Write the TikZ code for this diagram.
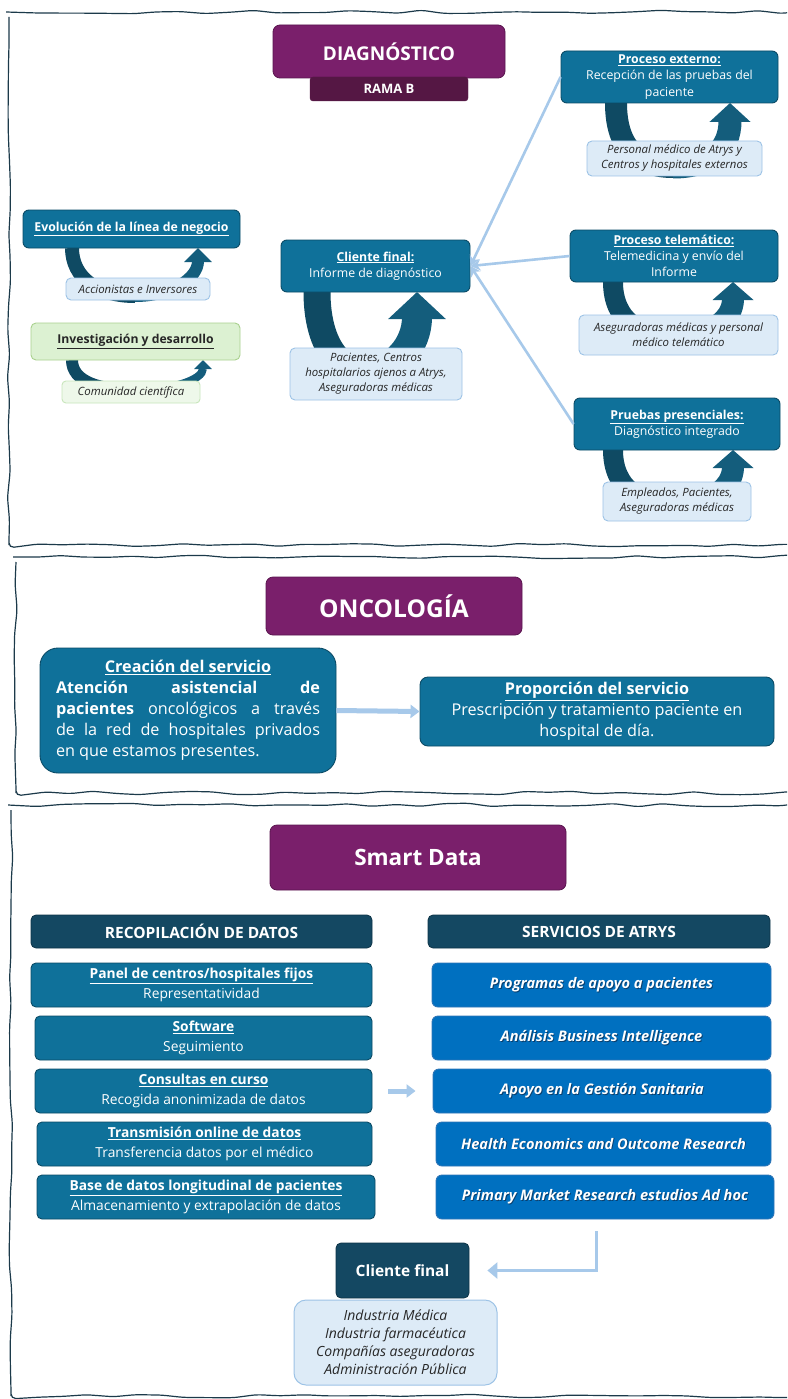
\documentclass[tikz,border=0pt]{standalone}
\usepackage{fontspec}
\setmainfont{Open Sans}
\usetikzlibrary{arrows.meta,decorations.pathmorphing}

\definecolor{framecol}{HTML}{1C3A4A}
\definecolor{plum}{HTML}{7A1F6B}
\definecolor{plumedge}{HTML}{5A164F}
\definecolor{plumdark}{HTML}{551744}
\definecolor{petrol}{HTML}{0F719A}
\definecolor{petroledge}{HTML}{0B4B66}
\definecolor{navy}{HTML}{144862}
\definecolor{navyedge}{HTML}{0E3447}
\definecolor{vivid}{HTML}{0070C0}
\definecolor{vividedge}{HTML}{2E75B6}
\definecolor{vividshade}{HTML}{0A3F6E}
\definecolor{paleblue}{HTML}{DDEBF7}
\definecolor{paleedge}{HTML}{9DC3E6}
\definecolor{palegreen}{HTML}{DCF1D2}
\definecolor{greenedge}{HTML}{A9D18E}
\definecolor{mintfill}{HTML}{EEF8EA}
\definecolor{mintedge}{HTML}{C8E6BC}
\definecolor{loopdark}{HTML}{0F4A63}
\definecolor{looplight}{HTML}{145D7C}
\definecolor{linkblue}{HTML}{A7C9EA}
\definecolor{inktext}{HTML}{262626}

\newcommand{\fsz}[2]{\fontsize{#1}{#2}\selectfont}
\newcommand{\ul}[1]{\underline{#1}}
% white label with a soft dark drop shadow
\newcommand{\shadowed}[1]{\rlap{\hspace{0.9pt}\raisebox{-0.9pt}{\textcolor{vividshade}{#1}}}#1}

\begin{document}
\begin{tikzpicture}[x=1pt,y=-1pt,
  every node/.style={inner sep=2pt, align=center},
  frame/.style={draw=framecol, line width=1.2pt, rounded corners=5pt,
    decorate, decoration={random steps, segment length=24pt, amplitude=1.8pt}},
  headbox/.style={fill=plum, draw=plumedge, line width=0.8pt, rounded corners=7pt,
    text=white, font=\bfseries},
  subhead/.style={fill=plumdark, draw=plumdark, rounded corners=3pt, text=white,
    font=\bfseries\fsz{13}{15}},
  procbox/.style={fill=petrol, draw=petroledge, line width=0.9pt, rounded corners=6pt,
    text=white, font=\fsz{12.3}{16.3}},
  notebox/.style={fill=paleblue, draw=paleedge, line width=0.9pt, rounded corners=5pt,
    text=inktext, font=\itshape\fsz{11.4}{15}},
  greenbox/.style={fill=palegreen, draw=greenedge, line width=0.9pt, rounded corners=5pt,
    text=inktext, font=\bfseries\fsz{12.2}{14}},
  mintbox/.style={fill=mintfill, draw=mintedge, line width=0.9pt, rounded corners=4pt,
    text=inktext, font=\itshape\fsz{11.4}{13}},
  onco/.style={fill=petrol, draw=petroledge, line width=0.9pt, text=white,
    font=\fsz{16.2}{21}},
  navybox/.style={fill=navy, draw=navyedge, line width=0.8pt, rounded corners=5pt,
    text=white, font=\bfseries\fsz{15.5}{17}},
  databox/.style={fill=petrol, draw=petroledge, line width=0.9pt, rounded corners=5pt,
    text=white, font=\fsz{13.8}{19.5}},
  servbox/.style={fill=vivid, draw=vividedge, line width=0.9pt, rounded corners=6pt,
    text=white, font=\bfseries\itshape\fsz{14.6}{17}},
  clientnote/.style={fill=paleblue, draw=paleedge, line width=1pt, rounded corners=12pt,
    text=inktext, font=\itshape\fsz{14}{18}},
  armdark/.style={draw=loopdark, line width=#1},
  armlight/.style={draw=looplight, line width=#1},
  link/.style={draw=linkblue, line width=2.6pt, -{Stealth[length=10pt,width=11pt]}},
  fat/.style={draw=linkblue, line width=5pt, -{Triangle[length=9pt,width=13pt]}},
]
\pgfmathsetseed{11}
\useasboundingbox (0,0) rectangle (787,1399);
\clip (0,0) rectangle (787,1399);
\fill[white] (0,0) rectangle (787,1399);

% hand-drawn section frames
\draw[frame] (9,12) rectangle (810,545);
\draw[frame] (16,557) rectangle (810,793);
\draw[frame] (11,805) rectangle (810,1396);

% ===== Diagnostico =====
\node[headbox, minimum width=232, minimum height=53, font=\bfseries\fsz{19}{22}] (diag) at (389,51.5) {DIAGNÓSTICO};
\node[subhead, minimum width=158, minimum height=24] (rama) at (389,89) {RAMA B};

% feedback loops (drawn before the boxes that cover their ends)
\draw[armdark=22pt] (616,103) .. controls (616,150) and (640,167) .. (673,167);
\draw[armlight=23pt, -{Triangle[length=19pt,width=40pt]}] (673,167) .. controls (710,167) and (730,150) .. (730,103);

\draw[armdark=20pt] (613,282) .. controls (613,320) and (640,337) .. (673,337);
\draw[armlight=22pt, -{Triangle[length=18pt,width=40pt]}] (673,337) .. controls (710,337) and (733,320) .. (733,282);

\draw[armdark=20pt] (613,450) .. controls (613,488) and (640,505) .. (673,505);
\draw[armlight=22pt, -{Triangle[length=18pt,width=40pt]}] (673,505) .. controls (710,505) and (733,488) .. (733,450);

\draw[armdark=27pt] (317,292) .. controls (317,345) and (340,372) .. (366,372);
\draw[armlight=30pt, -{Triangle[length=27pt,width=56pt]}] (366,372) .. controls (395,372) and (417,345) .. (417,292);

\draw[armdark=14pt] (72,248) .. controls (72,278) and (98,296) .. (135,296);
\draw[armlight=12pt, -{Triangle[length=14pt,width=27pt]}] (135,296) .. controls (172,296) and (198,278) .. (198,248);

\draw[armdark=12pt] (72,360) .. controls (72,382) and (100,390) .. (135,390);
\draw[armlight=8pt, -{Triangle[length=9pt,width=17pt]}] (135,390) .. controls (172,390) and (203,380) .. (203,360);

\node[procbox, minimum width=217, minimum height=52] (ext) at (669.5,77)
  {\ul{\textbf{Proceso externo:}}\\Recepción de las pruebas del\\paciente};
\node[notebox, minimum width=175, minimum height=35] (extn) at (674.5,158.5)
  {Personal médico de Atrys y\\Centros y hospitales externos};

\node[procbox, minimum width=208, minimum height=52] (tele) at (674,256)
  {\ul{\textbf{Proceso telemático:}}\\Telemedicina y envío del\\Informe};
\node[notebox, minimum width=199, minimum height=40] (telen) at (678.5,335)
  {Aseguradoras médicas y personal\\médico telemático};

\node[procbox, minimum width=206, minimum height=52] (pres) at (677,424)
  {\ul{\textbf{Pruebas presenciales:}}\\Diagnóstico integrado};
\node[notebox, minimum width=148, minimum height=39] (presn) at (677,501.5)
  {Empleados, Pacientes,\\Aseguradoras médicas};

\node[procbox, minimum width=189, minimum height=52] (cli) at (375.5,266)
  {\ul{\textbf{Cliente final:}}\\Informe de diagnóstico};
\node[notebox, minimum width=172, minimum height=52] (clin) at (376,374)
  {Pacientes, Centros\\hospitalarios ajenos a Atrys,\\Aseguradoras médicas};

\node[procbox, minimum width=217, minimum height=38] (evo) at (131.5,229)
  {\ul{\textbf{Evolución de la línea de negocio}}};
\node[notebox, minimum width=144, minimum height=22] (evon) at (138,289)
  {Accionistas e Inversores};

\node[greenbox, minimum width=209, minimum height=37] (inv) at (135.5,341.5)
  {\ul{Investigación y desarrollo}};
\node[mintbox, minimum width=138, minimum height=22] (invn) at (131,392)
  {Comunidad científica};

\draw[link] (ext.west) -- (cli.east);
\draw[link] (tele.west) -- (cli.east);
\draw[link] (pres.west) -- (cli.east);

% ===== Oncologia =====
\node[headbox, minimum width=256, minimum height=58, font=\bfseries\fsz{24.5}{28}] (onc) at (394,606) {ONCOLOGÍA};
\node[onco, rounded corners=18pt, minimum width=296, minimum height=125, text width=264pt, align=justify] (cre) at (188,710.5)
  {\makebox[\linewidth][c]{\ul{\textbf{Creación del servicio}}}\par
   \textbf{Atención asistencial de}\linebreak \textbf{pacientes} oncológicos a través\linebreak de la red de hospitales privados\linebreak en que estamos presentes.};
\node[onco, rounded corners=8pt, minimum width=354, minimum height=69] (pro) at (597,711.5)
  {\ul{\textbf{Proporción del servicio}}\\Prescripción y tratamiento paciente en\\hospital de día.};
\draw[fat] (cre.east) -- (pro.west);

% ===== Smart Data =====
\node[headbox, minimum width=296, minimum height=65, font=\bfseries\fsz{22.5}{26}] (smart) at (418,857.5) {Smart Data};

\node[navybox, minimum width=341, minimum height=33] (rec) at (201.5,931.5) {RECOPILACIÓN DE DATOS};
\node[navybox, minimum width=342, minimum height=33] (srv) at (599,931.5) {SERVICIOS DE ATRYS};

\node[databox, minimum width=341, minimum height=44] (d1) at (201.5,985)
  {\ul{\textbf{Panel de centros/hospitales fijos}}\\Representatividad};
\node[databox, minimum width=337, minimum height=44] (d2) at (203.5,1038)
  {\ul{\textbf{Software}}\\Seguimiento};
\node[databox, minimum width=337, minimum height=44] (d3) at (203.5,1091)
  {\ul{\textbf{Consultas en curso}}\\Recogida anonimizada de datos};
\node[databox, minimum width=335, minimum height=44] (d4) at (204.5,1144)
  {\ul{\textbf{Transmisión online de datos}}\\Transferencia datos por el médico};
\node[databox, minimum width=338, minimum height=44] (d5) at (206,1197)
  {\ul{\textbf{Base de datos longitudinal de pacientes}}\\Almacenamiento y extrapolación de datos};

\node[servbox, minimum width=339, minimum height=44] (s1) at (601.5,985) {\shadowed{Programas de apoyo a pacientes}};
\node[servbox, minimum width=339, minimum height=44] (s2) at (601.5,1038) {\shadowed{Análisis Business Intelligence}};
\node[servbox, minimum width=338, minimum height=44] (s3) at (602,1091) {\shadowed{Apoyo en la Gestión Sanitaria}};
\node[servbox, minimum width=335, minimum height=44] (s4) at (603.5,1144) {\shadowed{Health Economics and Outcome Research}};
\node[servbox, minimum width=338, minimum height=44] (s5) at (605,1197) {\shadowed{Primary Market Research estudios Ad hoc}};

\draw[fat, shorten <=16pt, shorten >=17pt] (d3.east) -- (s3.west);

\node[navybox, minimum width=133, minimum height=55] (fin) at (402.5,1270.5) {Cliente final};
\node[clientnote, minimum width=203, minimum height=85] (finn) at (395.5,1342.5)
  {Industria Médica\\Industria farmacéutica\\Compañías aseguradoras\\Administración Pública};

\coordinate (turn) at (596,1231);
\draw[draw=linkblue, line width=3pt, -{Triangle[length=10pt,width=16pt]}, shorten >=18pt] (turn) |- (fin.east);

\end{tikzpicture}
\end{document}
